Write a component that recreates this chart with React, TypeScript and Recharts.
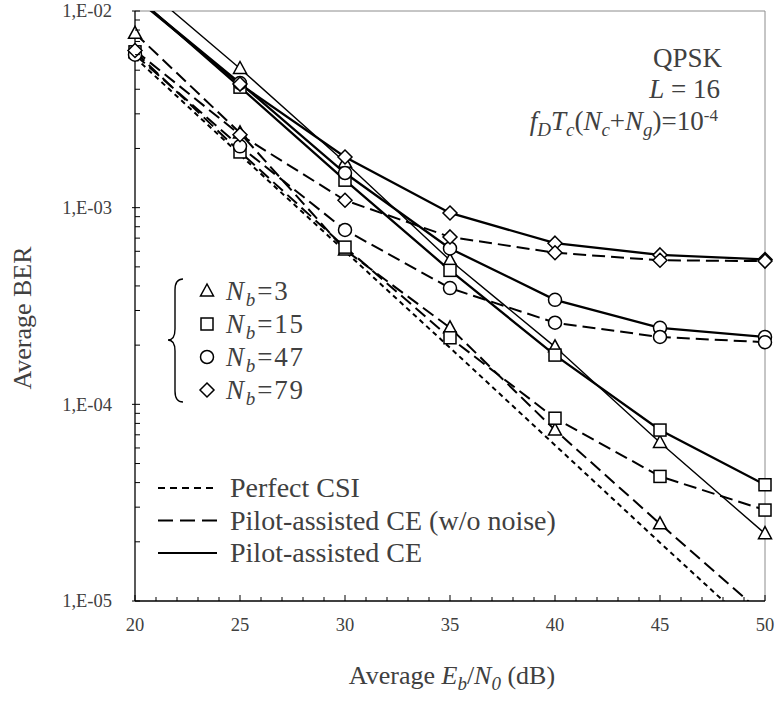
import { LineChart, Line, XAxis, YAxis, ReferenceLine } from 'recharts'

const FONT = '"Liberation Serif", "Times New Roman", serif'
const INK = '#404040'

const snr = [20, 25, 30, 35, 40, 45, 50]
const perfectCsi = [5.8e-3, 1.86e-3, 6.0e-4, 1.94e-4, 6.2e-5, 1.98e-5, 6.4e-6]
const noNoise3 = [7.7e-3, 2.4e-3, 6.1e-4, 2.45e-4, 7.4e-5, 2.47e-5, 8.4e-6]
const noNoise15 = [6.2e-3, 1.92e-3, 6.3e-4, 2.18e-4, 8.5e-5, 4.3e-5, 2.9e-5]
const noNoise47 = [6.0e-3, 2.05e-3, 7.7e-4, 3.9e-4, 2.6e-4, 2.2e-4, 2.07e-4]
const noNoise79 = [6.3e-3, 2.35e-3, 1.09e-3, 7.1e-4, 5.9e-4, 5.4e-4, 5.35e-4]
const ce3 = [1.45e-2, 5.1e-3, 1.7e-3, 5.4e-4, 1.96e-4, 6.4e-5, 2.2e-5]
const ce15 = [1.2e-2, 4.1e-3, 1.38e-3, 4.8e-4, 1.78e-4, 7.4e-5, 3.9e-5]
const ce47 = [1.18e-2, 4.3e-3, 1.5e-3, 6.2e-4, 3.4e-4, 2.45e-4, 2.2e-4]
const ce79 = [1.17e-2, 4.25e-3, 1.81e-3, 9.4e-4, 6.6e-4, 5.75e-4, 5.45e-4]

const xTicks = [20, 21, 22, 23, 24, 25, 26, 27, 28, 29, 30, 31, 32, 33, 34, 35, 36, 37, 38, 39, 40, 41, 42, 43, 44, 45, 46, 47, 48, 49, 50]
const yTicks = [
  1e-5, 2e-5, 3e-5, 4e-5, 5e-5, 6e-5, 7e-5, 8e-5, 9e-5,
  1e-4, 2e-4, 3e-4, 4e-4, 5e-4, 6e-4, 7e-4, 8e-4, 9e-4,
  1e-3, 2e-3, 3e-3, 4e-3, 5e-3, 6e-3, 7e-3, 8e-3, 9e-3,
  1e-2,
]
const nbLabels = ['3', '15', '47', '79']
const lineLegend = ['Perfect CSI', 'Pilot-assisted CE (w/o noise)', 'Pilot-assisted CE']

const data = snr.map((x, i) => ({
  snr: x,
  perfect: perfectCsi[i],
  nn3: noNoise3[i],
  nn15: noNoise15[i],
  nn47: noNoise47[i],
  nn79: noNoise79[i],
  ce3: ce3[i],
  ce15: ce15[i],
  ce47: ce47[i],
  ce79: ce79[i],
}))

type Shape = 'tri' | 'sq' | 'circ' | 'dia'
const shapes: Shape[] = ['tri', 'sq', 'circ', 'dia']

function marker(shape: Shape, cx: number, cy: number, key?: string) {
  const p = { fill: '#fff', stroke: '#000', strokeWidth: 1.5, key }
  if (shape === 'tri') return <polygon {...p} points={`${cx},${cy - 7} ${cx - 6.5},${cy + 5} ${cx + 6.5},${cy + 5}`} />
  if (shape === 'sq') return <rect {...p} x={cx - 6} y={cy - 6} width={12} height={12} />
  if (shape === 'circ') return <circle {...p} cx={cx} cy={cy} r={6.5} />
  return <polygon {...p} points={`${cx},${cy - 7} ${cx + 7},${cy} ${cx},${cy + 7} ${cx - 7},${cy}`} />
}

// hide markers of points that fall outside the plotted range
const makeDot = (shape: Shape) => (props: any) => {
  const { cx, cy, value, index } = props
  if (value == null || value > 1e-2 || value < 1e-5) return <g key={`e-${index}`} />
  return marker(shape, cx, cy, `d-${index}`)
}

const isDecade = (v: number) => Math.abs(Math.log10(v) - Math.round(Math.log10(v))) < 1e-6
const fmtY = (v: number) => `1,E-${String(Math.round(-Math.log10(v))).padStart(2, '0')}`

const X_MARGIN = 17
const Y_MARGIN = 23

function XTick(props: any) {
  const { x, y, payload } = props
  const axisY = y - X_MARGIN
  const major = payload.value % 5 === 0
  return (
    <g>
      <line x1={x} x2={x} y1={axisY} y2={axisY - (major ? 6 : 4)} stroke="#000" strokeWidth={1} />
      {major && (
        <text x={x} y={y} dy="0.71em" textAnchor="middle" fontSize={18.5} fontFamily={FONT} fill={INK}>
          {payload.value}
        </text>
      )}
    </g>
  )
}

function YTick(props: any) {
  const { x, y, payload } = props
  const axisX = x + Y_MARGIN
  const major = isDecade(payload.value)
  return (
    <g>
      <line x1={major ? axisX - 3 : axisX} x2={axisX + 5} y1={y} y2={y} stroke="#000" strokeWidth={1} />
      {major && (
        <text x={x} y={y} dy="0.35em" textAnchor="end" fontSize={18.5} fontFamily={FONT} fill={INK}>
          {fmtY(payload.value)}
        </text>
      )}
    </g>
  )
}

const LONG = '13 6'
const SHORT = '5 4'

function Overlay() {
  const sub = { fontSize: 19, fontStyle: 'italic' as const }
  return (
    <svg width={777} height={702} style={{ position: 'absolute', left: 0, top: 0, pointerEvents: 'none' }} fontFamily={FONT}>
      {/* axis titles */}
      <text x={0} y={0} transform="translate(31 318) rotate(-90)" textAnchor="middle" fontSize={26} fill={INK}>
        Average BER
      </text>
      <text x={452} y={684} textAnchor="middle" fontSize={26} fill={INK}>
        Average <tspan fontStyle="italic">E</tspan>
        <tspan {...sub} dy={6}>b</tspan>
        <tspan dy={-6}>/</tspan>
        <tspan fontStyle="italic">N</tspan>
        <tspan {...sub} dy={6}>0</tspan>
        <tspan dy={-6}> (dB)</tspan>
      </text>

      {/* parameters */}
      <g fontSize={27} fill={INK} textAnchor="end">
        <text x={722} y={67}>QPSK</text>
        <text x={720} y={98}>
          <tspan fontStyle="italic">L</tspan> = 16
        </text>
        <text x={718} y={130}>
          <tspan fontStyle="italic">f</tspan>
          <tspan {...sub} dy={6}>D</tspan>
          <tspan fontStyle="italic" dy={-6}>T</tspan>
          <tspan {...sub} dy={6}>c</tspan>
          <tspan dy={-6}>(</tspan>
          <tspan fontStyle="italic">N</tspan>
          <tspan {...sub} dy={6}>c</tspan>
          <tspan dy={-6}>+</tspan>
          <tspan fontStyle="italic">N</tspan>
          <tspan {...sub} dy={6}>g</tspan>
          <tspan dy={-6}>)=10</tspan>
          <tspan fontSize={17} dy={-9}>-4</tspan>
        </text>
      </g>

      {/* marker legend */}
      <path
        d="M183 279 Q175 279 175 290 L175 329 Q175 340 168 340 Q175 340 175 351 L175 391 Q175 402 183 402"
        fill="none"
        stroke="#000"
        strokeWidth={1.4}
      />
      {nbLabels.map((lab, i) => (
        <g key={lab}>
          {marker(shapes[i], 207, 291 + i * 33)}
          <text x={226} y={300 + i * 33} fontSize={27} fill={INK} letterSpacing={1.8}>
            <tspan fontStyle="italic">N</tspan>
            <tspan {...sub} dy={6}>b</tspan>
            <tspan dy={-6}>={lab}</tspan>
          </text>
        </g>
      ))}

      {/* line legend */}
      {lineLegend.map((lab, i) => (
        <g key={lab}>
          <line
            x1={158}
            x2={217}
            y1={488 + i * 32.5}
            y2={488 + i * 32.5}
            stroke="#000"
            strokeWidth={2.2}
            strokeDasharray={i === 0 ? '7 5' : i === 1 ? '15 7' : undefined}
          />
          <text x={230} y={497 + i * 32.5} fontSize={28} fill={INK}>
            {lab}
          </text>
        </g>
      ))}
    </svg>
  )
}

export default function App() {
  return (
    <div style={{ position: 'relative', width: 777, height: 702, background: '#fff' }}>
      <style>{'body{margin:0}'}</style>
      <LineChart width={777} height={702} data={data} margin={{ top: 11, right: 12, bottom: 61, left: 0 }}>
        <XAxis
          dataKey="snr"
          type="number"
          domain={[20, 50]}
          ticks={xTicks}
          interval={0}
          height={40}
          tickSize={0}
          tickMargin={X_MARGIN}
          tickLine={false}
          tick={<XTick />}
          axisLine={{ stroke: '#000', strokeWidth: 1.3 }}
        />
        <YAxis
          scale="log"
          domain={[1e-5, 1e-2]}
          allowDataOverflow
          ticks={yTicks}
          interval={0}
          width={135}
          tickSize={0}
          tickMargin={Y_MARGIN}
          tickLine={false}
          tick={<YTick />}
          axisLine={{ stroke: '#000', strokeWidth: 1.3 }}
        />
        <ReferenceLine y={1e-2} stroke="#8c8c8c" strokeWidth={1} />
        <ReferenceLine x={50} stroke="#8c8c8c" strokeWidth={1} />

        <Line dataKey="perfect" stroke="#000" strokeWidth={2} strokeDasharray={SHORT} dot={false} activeDot={false} isAnimationActive={false} />

        <Line dataKey="ce3" stroke="#000" strokeWidth={1.4} dot={makeDot('tri')} activeDot={false} isAnimationActive={false} />
        <Line dataKey="ce15" stroke="#000" strokeWidth={2.3} dot={makeDot('sq')} activeDot={false} isAnimationActive={false} />
        <Line dataKey="ce47" stroke="#000" strokeWidth={2.3} dot={makeDot('circ')} activeDot={false} isAnimationActive={false} />
        <Line dataKey="ce79" stroke="#000" strokeWidth={2.3} dot={makeDot('dia')} activeDot={false} isAnimationActive={false} />

        <Line dataKey="nn3" stroke="#000" strokeWidth={2} strokeDasharray={LONG} dot={makeDot('tri')} activeDot={false} isAnimationActive={false} />
        <Line dataKey="nn15" stroke="#000" strokeWidth={2} strokeDasharray={LONG} dot={makeDot('sq')} activeDot={false} isAnimationActive={false} />
        <Line dataKey="nn47" stroke="#000" strokeWidth={2} strokeDasharray={LONG} dot={makeDot('circ')} activeDot={false} isAnimationActive={false} />
        <Line dataKey="nn79" stroke="#000" strokeWidth={2} strokeDasharray={LONG} dot={makeDot('dia')} activeDot={false} isAnimationActive={false} />
      </LineChart>
      <Overlay />
    </div>
  )
}
